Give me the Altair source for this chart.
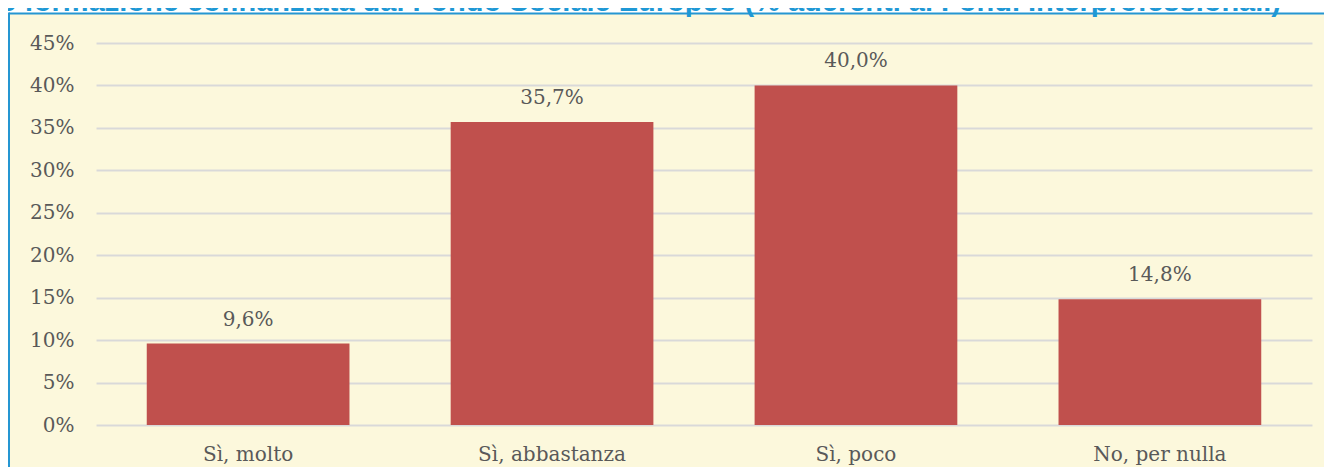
import altair as alt
import pandas as pd

categories = ["Sì, molto", "Sì, abbastanza", "Sì, poco", "No, per nulla"]
values = [0.096, 0.357, 0.400, 0.148]
labels = ["9,6%", "35,7%", "40,0%", "14,8%"]
y_ticks = [0, 0.05, 0.10, 0.15, 0.20, 0.25, 0.30, 0.35, 0.40, 0.45]
title_text = "e formazione cofinanziata dal Fondo Sociale Europeo (% aderenti ai Fondi Interprofessionali)"

df = pd.DataFrame({"cat": categories, "val": values, "lab": labels})
one = pd.DataFrame({"a": [0]})

W, H = 1216, 382
SERIF = "DejaVu Serif"
GRAY = "#595959"
BLUE = "#2596D2"

xenc = alt.X("cat:N", sort=categories, title=None,
             scale=alt.Scale(paddingInner=0.333, paddingOuter=0.167),
             axis=alt.Axis(labelAngle=0, labelFont=SERIF, labelFontSize=20,
                           labelColor=GRAY, ticks=False, domain=False,
                           labelPadding=19, grid=False))
yenc = alt.Y("val:Q", title=None,
             scale=alt.Scale(domain=[0, 0.45], nice=False),
             axis=alt.Axis(values=y_ticks, format=".0%", labelFont=SERIF,
                           labelFontSize=20, labelColor=GRAY, ticks=False,
                           domain=False, labelPadding=22, grid=True,
                           gridColor="#D9D9D9", gridWidth=2))

bars = alt.Chart(df).mark_bar(color="#C0504D").encode(x=xenc, y=yenc)
text = alt.Chart(df).mark_text(font=SERIF, fontSize=20, color=GRAY,
                               baseline="alphabetic", dy=-18).encode(
    x=alt.X("cat:N", sort=categories), y="val:Q", text="lab:N")

white_strip = alt.Chart(one).mark_rect(color="white").encode(
    x=alt.value(-88), x2=alt.value(W + 12), y=alt.value(-40), y2=alt.value(-30))
top_rule = alt.Chart(one).mark_rule(color=BLUE, strokeWidth=2).encode(
    x=alt.value(-87), x2=alt.value(W + 12), y=alt.value(-29.5))
left_rule = alt.Chart(one).mark_rule(color=BLUE, strokeWidth=2).encode(
    x=alt.value(-87), y=alt.value(-30.5), y2=alt.value(H + 60))
title = alt.Chart(one).mark_text(font="Liberation Sans", fontWeight="bold",
                                 fontSize=29, color="#1E98D5", align="left",
                                 baseline="alphabetic").encode(
    x=alt.value(-96), y=alt.value(-32), text=alt.value(title_text))

chart = alt.layer(white_strip, bars, text, top_rule, left_rule, title).properties(
    width=W, height=H,
    padding={"left": 88, "top": 35, "right": 12, "bottom": 42},
    autosize=alt.AutoSizeParams(type="none"),
    background="#FCF8DC",
).configure_view(stroke=None)

chart.save("out.html", embed_options={"renderer": "svg", "actions": False})
